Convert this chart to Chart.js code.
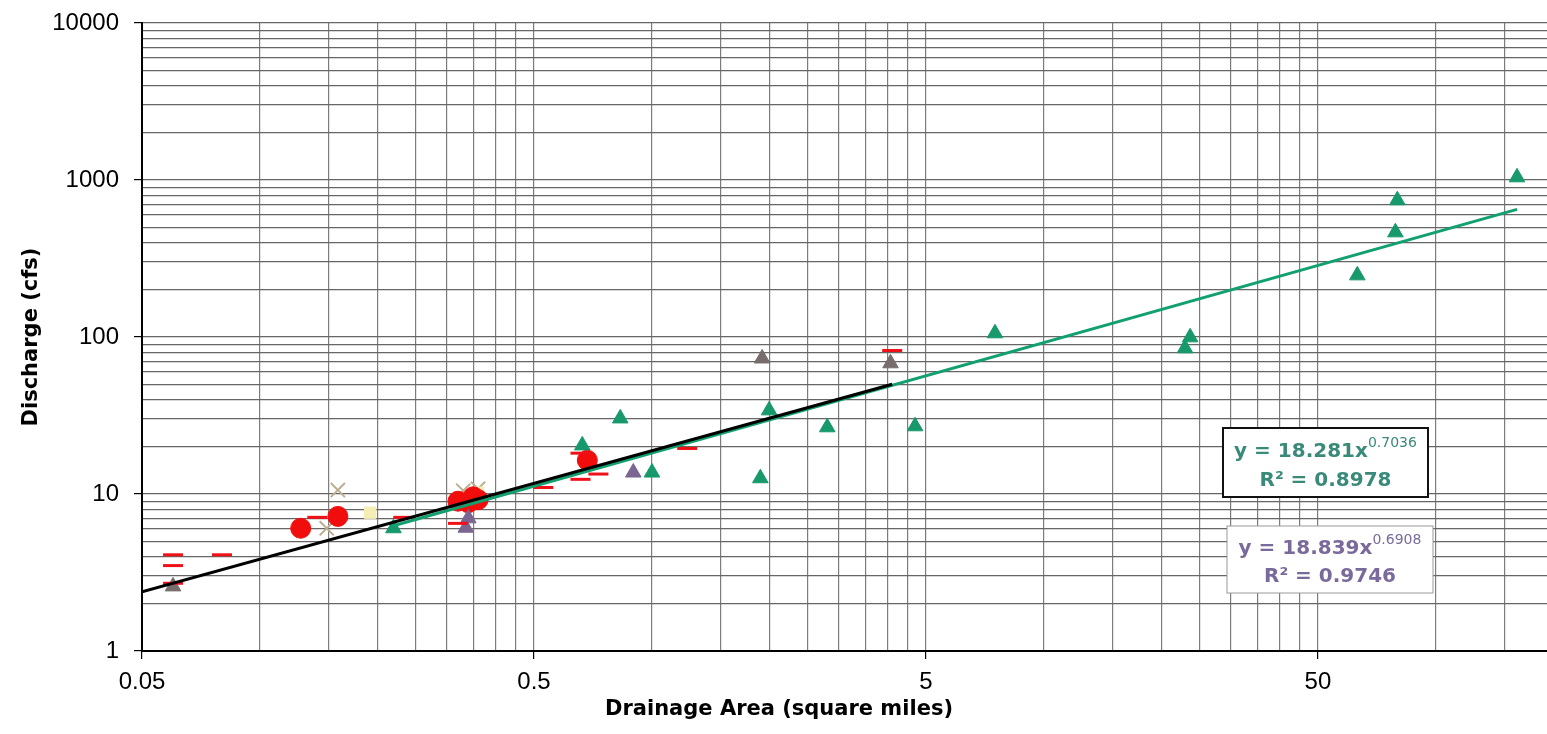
<!DOCTYPE html>
<html>
<head>
<meta charset="utf-8">
<script src="https://cdn.jsdelivr.net/npm/chart.js@4.4.1/dist/chart.umd.min.js"></script>
<style>
  html, body { margin: 0; padding: 0; background: #fff; overflow: hidden; }
  #wrap { width: 1547px; height: 734px; }
</style>
</head>
<body>
<div id="wrap"><canvas id="qChart" width="1547" height="734"></canvas></div>
<script>
// values (drainage area in sq mi, discharge in cfs)
const redDashX = [0.060, 0.060, 0.060, 0.080, 0.140, 0.232, 0.320, 0.528, 0.657, 0.657, 0.730, 1.23, 4.10];
const redDashY = [4.1, 3.5, 2.7, 4.1, 7.1, 7.1, 6.5, 11.0, 12.4, 18.2, 13.4, 19.5, 82];

const redDotX = [0.127, 0.158, 0.320, 0.340, 0.360, 0.350, 0.684];
const redDotY = [6.05, 7.2, 9.0, 8.8, 9.2, 9.6, 16.4];

const tanX = [0.158, 0.148, 0.330, 0.360];
const tanY = [10.6, 6.05, 10.5, 10.8];

const yellowX = [0.191, 0.360];
const yellowY = [7.6, 10.2];

const greenX = [0.219, 0.664, 0.83, 1.0, 1.99, 1.89, 2.80, 4.69, 7.5, 23.6, 22.9, 63, 78.8, 79.7, 161];
const greenY = [6.05, 20.4, 30.3, 13.7, 34.1, 12.6, 26.6, 27.0, 105.6, 99.5, 84.7, 247, 464, 743, 1040];

const grayX = [0.060, 1.91, 4.06];
const grayY = [2.58, 73, 68];

const purpleX = [0.340, 0.335, 0.896];
const purpleY = [7.0, 6.1, 13.7];

// trend line end points
const blackFitX = [0.05, 4.1];
const blackFitY = [2.38, 50];
const greenFitX = [0.219, 161];
const greenFitY = [6.28, 650];

// axes
const xLabels = ['0.05', '0.5', '5', '50'];
const yLabels = ['1', '10', '100', '1000', '10000'];
const xMin = 0.05, xMax = 192;
const yMin = 1, yMax = 10000;

const eqGreen = { coef: '18.281', expo: '0.7036', r2: '0.8978' };
const eqPurple = { coef: '18.839', expo: '0.6908', r2: '0.9746' };

const pts = (xs, ys) => xs.map((x, i) => ({ x, y: ys[i] }));
const near = (a, b) => Math.abs(a - b) < 1e-9 * Math.max(1, b);

function logTicks(min, max, steps) {
  const out = [];
  for (let d = min; d <= max * 1.0001; d *= 10) {
    for (const k of steps) {
      const v = parseFloat((d * k).toPrecision(6));
      if (v <= max * 1.0001) out.push(v);
    }
  }
  return out;
}
const xGrid = logTicks(0.05, xMax, [1, 2, 3, 4, 5, 6, 7, 8, 9]);
const yGrid = logTicks(1, yMax, [1, 2, 3, 4, 5, 6, 7, 8, 9]).filter(v => v <= yMax);

const isXMajor = v => xLabels.some(l => near(v, parseFloat(l)));
const isYMajor = v => yLabels.some(l => near(v, parseFloat(l)));

const overlay = {
  id: 'overlay',
  afterDraw(chart) {
    const ctx = chart.ctx;
    ctx.save();
    // x axis title
    ctx.fillStyle = '#000';
    ctx.font = 'bold 21px "DejaVu Sans"';
    ctx.textAlign = 'center';
    ctx.textBaseline = 'alphabetic';
    ctx.fillText('Drainage Area (square miles)', 779, 715);

    drawEq(ctx, eqGreen, { x: 1223, y: 428, w: 205, h: 69 }, '#111', 2, '#3a8a7a', 457, 486);
    drawEq(ctx, eqPurple, { x: 1227, y: 526, w: 206, h: 67 }, '#9a9a9a', 1, '#7a6a9c', 554, 582);
    ctx.restore();
  }
};

function drawEq(ctx, eq, box, border, bw, color, y1, y2) {
  ctx.fillStyle = '#fff';
  ctx.fillRect(box.x, box.y, box.w, box.h);
  ctx.strokeStyle = border;
  ctx.lineWidth = bw;
  ctx.strokeRect(box.x, box.y, box.w, box.h);
  const cx = box.x + box.w / 2;
  ctx.fillStyle = color;
  ctx.textBaseline = 'alphabetic';
  ctx.textAlign = 'left';
  const main = 'y = ' + eq.coef + 'x';
  ctx.font = 'bold 20px "DejaVu Sans"';
  const wm = ctx.measureText(main).width;
  ctx.font = '14px "DejaVu Sans"';
  const ws = ctx.measureText(eq.expo).width;
  const x0 = cx - (wm + ws) / 2;
  ctx.font = 'bold 20px "DejaVu Sans"';
  ctx.fillText(main, x0, y1);
  ctx.font = '14px "DejaVu Sans"';
  ctx.fillText(eq.expo, x0 + wm, y1 - 10);
  ctx.font = 'bold 20px "DejaVu Sans"';
  ctx.textAlign = 'center';
  ctx.fillText('R² = ' + eq.r2, cx, y2);
}

new Chart(document.getElementById('qChart'), {
  type: 'scatter',
  data: {
    datasets: [
      { type: 'line', data: pts(blackFitX, blackFitY), borderColor: '#000', borderWidth: 3, pointRadius: 0, showLine: true },
      { type: 'line', data: pts(greenFitX, greenFitY), borderColor: '#12a06e', borderWidth: 3, pointRadius: 0, showLine: true },
      { data: pts(redDashX, redDashY), pointStyle: 'line', pointRadius: 10, borderColor: '#f01018', borderWidth: 3 },
      { data: pts(purpleX, purpleY), pointStyle: 'triangle', pointRadius: 9, backgroundColor: '#7a6690', borderColor: '#7a6690', borderWidth: 1 },
      { data: pts(grayX, grayY), pointStyle: 'triangle', pointRadius: 9, backgroundColor: '#786d6d', borderColor: '#786d6d', borderWidth: 1 },
      { data: pts(greenX, greenY), pointStyle: 'triangle', pointRadius: 9, backgroundColor: '#17996b', borderColor: '#17996b', borderWidth: 1 },
      { data: pts(redDotX, redDotY), pointStyle: 'circle', pointRadius: 10, backgroundColor: '#f20d0d', borderColor: '#f20d0d', borderWidth: 1 },
      { data: pts(yellowX, yellowY), pointStyle: 'rect', pointRadius: 8, backgroundColor: '#f5eeb4', borderColor: '#f5eeb4', borderWidth: 1 },
      { data: pts(tanX, tanY), pointStyle: 'crossRot', pointRadius: 10, borderColor: '#bcae92', borderWidth: 2 }
    ]
  },
  options: {
    responsive: false,
    animation: false,
    layout: { autoPadding: false, padding: { top: 23, right: 0, left: 0, bottom: 0 } },
    plugins: { legend: { display: false }, tooltip: { enabled: false } },
    scales: {
      x: {
        type: 'logarithmic',
        min: xMin, max: xMax,
        afterBuildTicks: s => { s.ticks = xGrid.map(v => ({ value: v })); },
        afterFit: s => { s.height = 83; s.paddingLeft = 0; s.paddingRight = 0; },
        ticks: {
          autoSkip: false, maxRotation: 0, padding: 9, color: '#000',
          font: { family: '"Liberation Sans", Arial', size: 24 },
          callback: v => isXMajor(v) ? xLabels.find(l => near(v, parseFloat(l))) : ''
        },
        grid: {
          color: '#7c7c7c', lineWidth: 1.2, tickLength: 8,
          tickColor: c => isXMajor(c.tick.value) ? '#000' : 'rgba(0,0,0,0)'
        },
        border: { display: true, color: '#000', width: 2 }
      },
      y: {
        type: 'logarithmic',
        min: yMin, max: yMax,
        afterBuildTicks: s => { s.ticks = yGrid.map(v => ({ value: v })); },
        afterFit: s => { s.width = 142; s.paddingTop = 0; s.paddingBottom = 0; },
        ticks: {
          autoSkip: false, padding: 15, color: '#000',
          font: { family: '"Liberation Sans", Arial', size: 24 },
          callback: v => isYMajor(v) ? yLabels.find(l => near(v, parseFloat(l))) : ''
        },
        grid: {
          color: '#666', lineWidth: 1.2, tickLength: 8,
          tickColor: c => isYMajor(c.tick.value) ? '#000' : 'rgba(0,0,0,0)'
        },
        border: { display: true, color: '#000', width: 2 },
        title: {
          display: true, text: 'Discharge (cfs)', color: '#000',
          font: { family: '"DejaVu Sans"', size: 21, weight: 'bold' },
          padding: { top: 19, bottom: 0 }
        }
      }
    }
  },
  plugins: [overlay]
});
</script>
</body>
</html>
